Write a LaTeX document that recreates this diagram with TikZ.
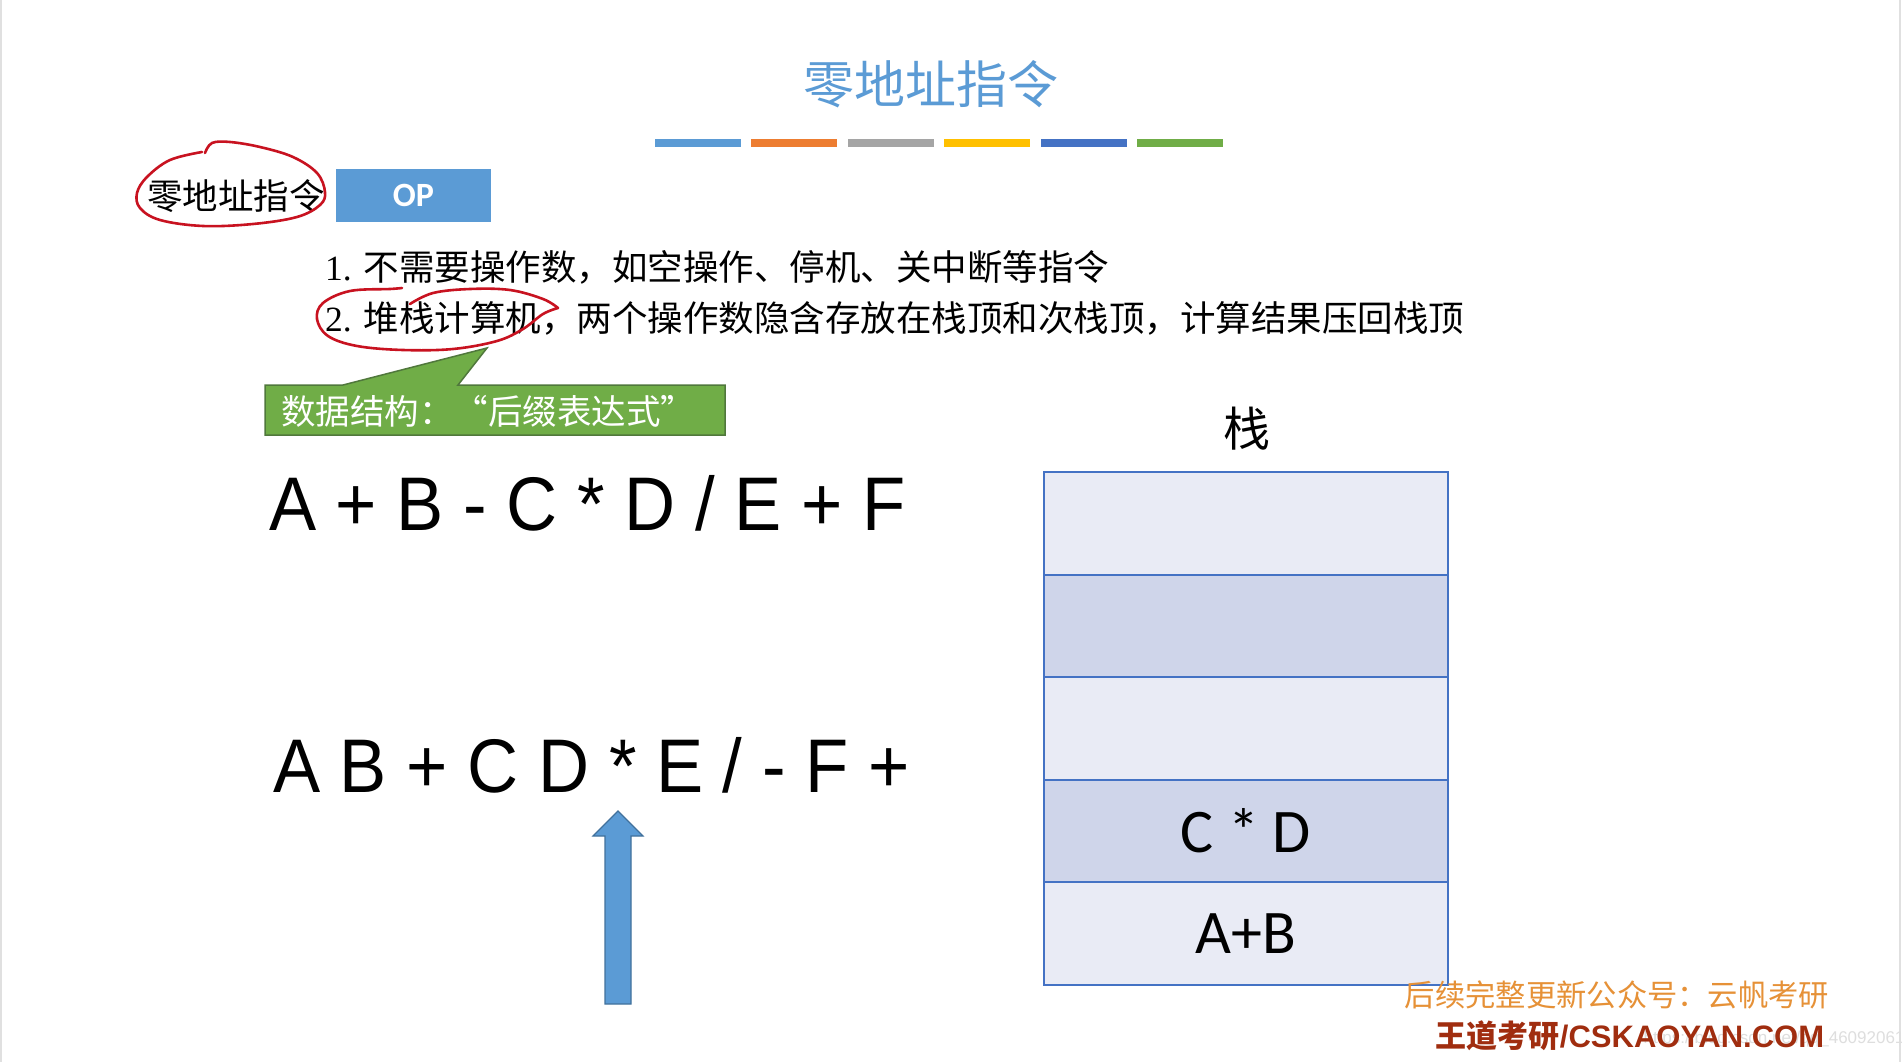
\documentclass[tikz,border=0pt]{standalone}
\usepackage{graphicx}
\usepackage{fontspec}
\setmainfont{Liberation Serif}
\newfontfamily\cjk{Noto Sans CJK SC}
\newfontfamily\arialf{Liberation Sans}
\newfontfamily\calib{Carlito}
\usetikzlibrary{positioning}
\definecolor{titleblue}{RGB}{91,155,213}
\definecolor{barA}{RGB}{91,155,213}
\definecolor{barB}{RGB}{237,125,49}
\definecolor{barC}{RGB}{165,165,165}
\definecolor{barD}{RGB}{255,192,0}
\definecolor{barE}{RGB}{68,114,196}
\definecolor{barF}{RGB}{112,173,71}
\definecolor{penred}{RGB}{200,18,32}
\definecolor{calgreen}{RGB}{112,173,71}
\definecolor{calline}{RGB}{80,120,60}
\definecolor{arrowline}{RGB}{65,113,156}
\definecolor{cellline}{RGB}{68,114,196}
\definecolor{celllight}{RGB}{233,235,245}
\definecolor{celldark}{RGB}{207,213,234}
\definecolor{wmorange}{RGB}{230,145,55}
\definecolor{wmred}{RGB}{160,45,15}

\begin{document}
\begin{tikzpicture}[x=1pt,y=-1pt,
 txt/.style={inner sep=0pt},
 cell/.style={draw=cellline,line width=2pt,minimum width=404pt,minimum height=102.6pt,inner sep=0pt,
   outer sep=0pt,font=\calib\fontsize{62}{62}\selectfont},
 pen/.style={draw=penred,line width=2.6pt,line cap=round,line join=round}]
\useasboundingbox[fill=white] (0,0) rectangle (1902,1062);
\draw[black!12,line width=2pt] (1,0) -- (1,1062);
\draw[black!12,line width=2pt] (1900,0) -- (1900,1062);

% title and colour bars
\node[txt,text=titleblue] (title) at (931,84) {\cjk\fontsize{51}{51}\selectfont 零地址指令};
\foreach \c [count=\i from 0] in {barA,barB,barC,barD,barE,barF}
  \fill[\c] (655+\i*96.4,139) rectangle ++(86,8);

% instruction format
\node[txt] (lbl) at (236,196) {\cjk\fontsize{35.5}{36}\selectfont 零地址指令};
\node[fill=titleblue,minimum width=155pt,minimum height=53pt,inner sep=0pt,text=white]
 (op) at (413.5,195.5) {\calib\bfseries\fontsize{34}{34}\selectfont OP};
\draw[pen] plot[smooth,tension=0.6] coordinates {(202,152) (170,160) (147,177) (137,193) (140,208)
 (160,220) (203,226) (253,224) (297,217) (320,205) (325,192) (317,173) (293,157) (260,147)
 (230,142) (212,143) (205,153)};

\node[txt,anchor=base west] (l1) at (325,280)
 {\fontsize{35.5}{36}\selectfont 1. {\cjk 不需要操作数，如空操作、停机、关中断等指令}};
\node[txt,anchor=base west] (l2) at (325,331)
 {\fontsize{35.5}{36}\selectfont 2. {\cjk 堆栈计算机，两个操作数隐含存放在栈顶和次栈顶，计算结果压回栈顶}};
\draw[pen] plot[smooth,tension=0.6] coordinates {(410,304) (433,293) (470,289) (510,290) (543,299) (558,308)}
 plot[smooth,tension=0.6] coordinates {(558,308) (543,314) (523,329) (497,341) (453,349) (403,350)
 (357,346) (328,336) (317,319) (323,303) (350,291) (390,289) (402,288)};

% callout
\draw[fill=calgreen,draw=calline,line width=1.5pt] (265,385) -- (343,385) -- (487,348) -- (458,385)
 -- (725,385) -- (725,435) -- (265,435) -- cycle;
\node[txt,text=white] (ds) at (488,411) {\cjk\fontsize{34.5}{35}\selectfont 数据结构：“后缀表达式”};

% expressions
\node[txt,anchor=base west] (infix) at (269,530)
 {\arialf\fontsize{76}{76}\selectfont\scalebox{0.93}[1]{A + B - C * D / E + F}};
\node[txt,anchor=base west] (postfix) at (273,792)
 {\arialf\fontsize{76}{76}\selectfont\scalebox{0.93}[1]{A B + C D * E / - F +}};
\draw[fill=titleblue,draw=arrowline,line width=1.2pt] (605,1004) -- (605,836) -- (593,836) -- (618,811)
 -- (643,836) -- (631,836) -- (631,1004) -- cycle;

% stack
\node[cell,fill=celllight] (r1) at (1246,523.3) {};
\node[cell,fill=celldark,below=0pt of r1] (r2) {};
\node[cell,fill=celllight,below=0pt of r2] (r3) {};
\node[cell,fill=celldark,below=0pt of r3] (r4) {C * D};
\node[cell,fill=celllight,below=0pt of r4] (r5) {A+B};
\node[txt] (stk) at (1247,429) {\cjk\fontsize{47}{47}\selectfont 栈};

% watermark
\node[txt,text=black!13] (url) at (1774,1039) {\arialf\fontsize{17}{17}\selectfont https://blog.csdn.net/qq\_46092061};
\node[txt,text=wmorange] (wm1) at (1617,995) {\cjk\fontsize{30.3}{31}\selectfont 后续完整更新公众号：云帆考研};
\node[txt,text=wmred] (wm2) at (1630,1036)
 {\fontsize{31}{31}\selectfont{\cjk\bfseries 王道考研}{\arialf\bfseries /CSKAOYAN.COM}};
\end{tikzpicture}
\end{document}
